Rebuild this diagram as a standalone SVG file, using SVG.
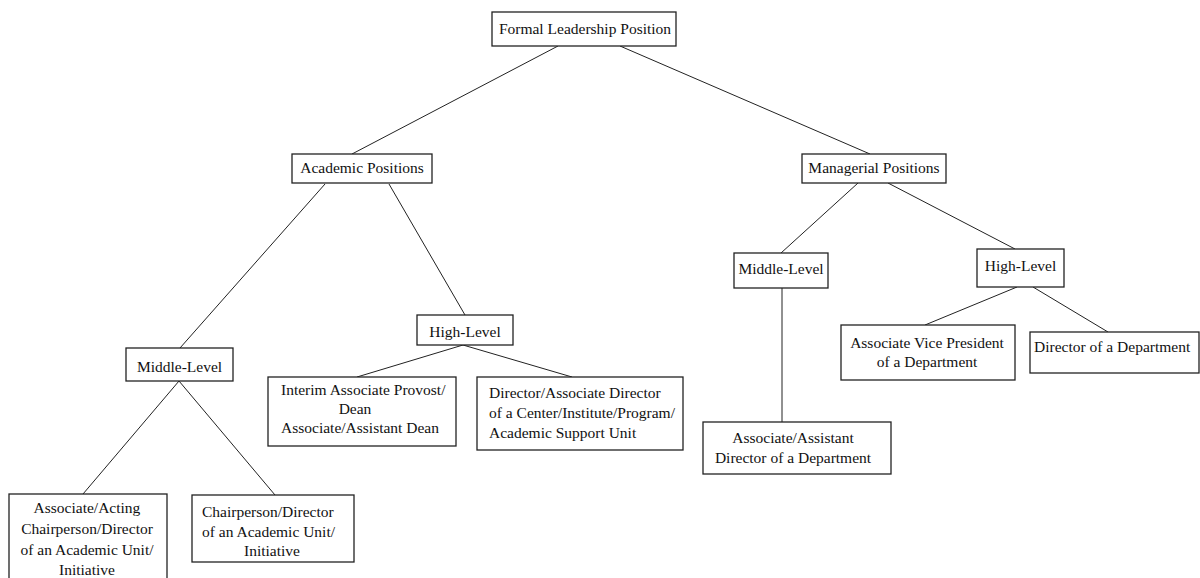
<svg xmlns="http://www.w3.org/2000/svg" width="1200" height="578" viewBox="0 0 1200 578">
<style>
rect{fill:#fff;stroke:#222;stroke-width:1.3}
text{font-family:'Liberation Serif','DejaVu Serif',serif;font-size:15.5px;fill:#111}
.c{text-anchor:middle}
#connectors line{stroke:#222;stroke-width:1}
</style>
<rect x="0" y="0" width="1200" height="578" style="fill:#fff;stroke:none"/>
<g id="connectors">
<line x1="558" y1="46" x2="352" y2="154"/>
<line x1="620" y1="46" x2="870" y2="154"/>
<line x1="325" y1="184" x2="180" y2="348"/>
<line x1="389" y1="184" x2="465" y2="315"/>
<line x1="179" y1="381" x2="83" y2="494"/>
<line x1="179" y1="381" x2="275" y2="495"/>
<line x1="463" y1="345" x2="357" y2="377"/>
<line x1="463" y1="345" x2="572" y2="377"/>
<line x1="858" y1="183" x2="781" y2="253"/>
<line x1="888" y1="183" x2="1015" y2="249"/>
<line x1="782" y1="288" x2="782" y2="422"/>
<line x1="1017" y1="287" x2="925" y2="325"/>
<line x1="1033" y1="287" x2="1108" y2="332"/>
</g>
<g id="formal">
<rect x="492" y="12" width="184" height="34"/>
<text class="c" x="585" y="34">Formal Leadership Position</text>
</g>
<g id="academic">
<rect x="292" y="154" width="140" height="29"/>
<text class="c" x="362" y="173">Academic Positions</text>
</g>
<g id="managerial">
<rect x="802" y="154" width="144" height="29"/>
<text class="c" x="874" y="173">Managerial Positions</text>
</g>
<g id="acad-middle">
<rect x="126" y="348" width="107" height="33"/>
<text class="c" x="179.500" y="372">Middle-Level</text>
</g>
<g id="acad-high">
<rect x="417" y="315" width="96" height="30"/>
<text class="c" x="465" y="337">High-Level</text>
</g>
<g id="mgr-middle">
<rect x="734" y="253" width="94" height="35"/>
<text class="c" x="781" y="274">Middle-Level</text>
</g>
<g id="mgr-high">
<rect x="977" y="249" width="87" height="38"/>
<text class="c" x="1020.500" y="271">High-Level</text>
</g>
<g id="assoc-acting">
<rect x="9" y="494" width="158" height="100"/>
<text class="c" x="87" y="513">Associate/Acting</text>
<text class="c" x="87" y="534">Chairperson/Director</text>
<text class="c" x="87" y="555">of an Academic Unit/</text>
<text class="c" x="87" y="575">Initiative</text>
</g>
<g id="chairperson">
<rect x="192" y="495" width="162" height="67"/>
<text x="202" y="517">Chairperson/Director</text>
<text x="202" y="537">of an Academic Unit/</text>
<text class="c" x="272" y="556">Initiative</text>
</g>
<g id="interim">
<rect x="268" y="377" width="188" height="69"/>
<text x="281" y="395">Interim Associate Provost/</text>
<text class="c" x="355" y="414">Dean</text>
<text x="281" y="433">Associate/Assistant Dean</text>
</g>
<g id="director-center">
<rect x="477" y="377" width="206" height="73"/>
<text x="489" y="398">Director/Associate Director</text>
<text x="489" y="418">of a Center/Institute/Program/</text>
<text x="489" y="438">Academic Support Unit</text>
</g>
<g id="assoc-assistant">
<rect x="703" y="422" width="188" height="52"/>
<text class="c" x="793" y="443">Associate/Assistant</text>
<text class="c" x="793" y="463">Director of a Department</text>
</g>
<g id="avp">
<rect x="841" y="325" width="174" height="55"/>
<text class="c" x="927" y="348">Associate Vice President</text>
<text class="c" x="927" y="367">of a Department</text>
</g>
<g id="director-dept">
<rect x="1030" y="332" width="169" height="41"/>
<text x="1034" y="352">Director of a Department</text>
</g>
</svg>
